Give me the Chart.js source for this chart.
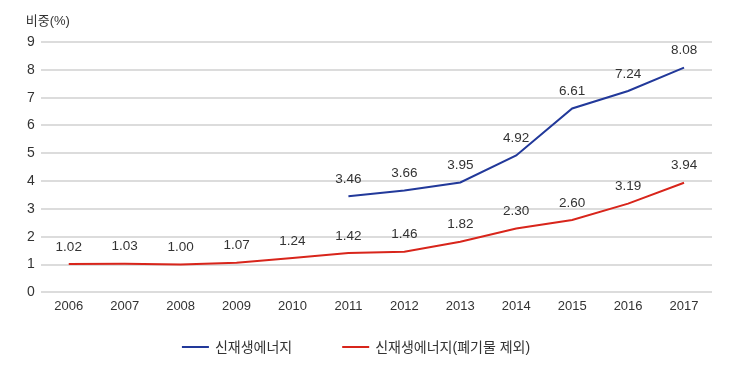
<!DOCTYPE html>
<html>
<head>
<meta charset="utf-8">
<script src="https://cdn.jsdelivr.net/npm/chart.js@4/dist/chart.umd.min.js"></script>
<style>
  html, body { margin: 0; padding: 0; background: #fff; }
  #wrap { width: 736px; height: 368px; }
</style>
</head>
<body>
<div id="wrap"><canvas id="chart"></canvas></div>
<script>
const years = ["2006", "2007", "2008", "2009", "2010", "2011", "2012", "2013", "2014", "2015", "2016", "2017"]
const renewable = [null, null, null, null, null, 3.46, 3.66, 3.95, 4.92, 6.61, 7.24, 8.08]
const renewableExWaste = [1.02, 1.03, 1.00, 1.07, 1.24, 1.42, 1.46, 1.82, 2.30, 2.60, 3.19, 3.94]
const yTicks = [0, 1, 2, 3, 4, 5, 6, 7, 8, 9]
const yTitle = "비중(%)"

const FONT = "'Liberation Sans', 'Noto Sans CJK KR', sans-serif"

// value labels above each point
const valueLabels = {
  id: "valueLabels",
  afterDatasetsDraw(chart) {
    const ctx = chart.ctx
    ctx.save()
    ctx.font = "13.5px " + FONT
    ctx.fillStyle = "#333"
    ctx.textAlign = "center"
    ctx.textBaseline = "middle"
    chart.data.datasets.forEach((ds, i) => {
      const meta = chart.getDatasetMeta(i)
      meta.data.forEach((pt, j) => {
        const v = ds.data[j]
        if (v == null) return
        ctx.fillText(v.toFixed(2), pt.x, pt.y - 17)
      })
    })
    ctx.restore()
  }
}

// unit title above the y axis
const axisTitle = {
  id: "axisTitle",
  afterDraw(chart) {
    const ctx = chart.ctx
    ctx.save()
    ctx.font = "13px " + FONT
    ctx.fillStyle = "#333"
    ctx.textBaseline = "middle"
    ctx.fillText(yTitle, chart.chartArea.left - 15, chart.chartArea.top - 21)
    ctx.restore()
  }
}

// legend drawn below the axis: short line + label, wide gap between items
const lineLegend = {
  id: "lineLegend",
  afterDraw(chart) {
    const ctx = chart.ctx
    const sample = 27, gap = 6, between = 50
    ctx.save()
    ctx.font = "14px " + FONT
    ctx.textBaseline = "middle"
    const items = chart.data.datasets.map(ds => ({
      text: ds.label, color: ds.borderColor, w: ctx.measureText(ds.label).width
    }))
    const total = items.reduce((s, it) => s + sample + gap + it.w, 0) + between * (items.length - 1)
    let x = chart.width / 2 - 12 - total / 2
    const y = chart.height - 21
    items.forEach(it => {
      ctx.strokeStyle = it.color
      ctx.lineWidth = 2
      ctx.beginPath()
      ctx.moveTo(x, y)
      ctx.lineTo(x + sample, y)
      ctx.stroke()
      ctx.fillStyle = "#333"
      ctx.fillText(it.text, x + sample + gap, y + 1)
      x += sample + gap + it.w + between
    })
    ctx.restore()
  }
}

new Chart(document.getElementById("chart"), {
  type: "line",
  data: {
    labels: years,
    datasets: [
      {
        label: "신재생에너지",
        data: renewable,
        borderColor: "#22399a",
        backgroundColor: "#22399a",
        borderWidth: 2,
        pointRadius: 0,
        tension: 0
      },
      {
        label: "신재생에너지(폐기물 제외)",
        data: renewableExWaste,
        borderColor: "#d8251b",
        backgroundColor: "#d8251b",
        borderWidth: 2,
        pointRadius: 0,
        tension: 0
      }
    ]
  },
  options: {
    responsive: true,
    maintainAspectRatio: false,
    animation: false,
    layout: { padding: { left: 21, right: 24, top: 42, bottom: 48 } },
    scales: {
      x: {
        offset: true,
        grid: { display: false, drawTicks: false },
        border: { display: false },
        ticks: { color: "#333", font: { family: FONT, size: 13 }, padding: 6, maxRotation: 0 }
      },
      y: {
        min: 0,
        max: 9,
        afterBuildTicks: axis => { axis.ticks = yTicks.map(v => ({ value: v })) },
        grid: { color: "#dcdcdc", lineWidth: 2, drawTicks: false },
        border: { display: false },
        ticks: { color: "#333", font: { family: FONT, size: 14 }, padding: 6 }
      }
    },
    plugins: {
      legend: { display: false },
      tooltip: { enabled: false }
    }
  },
  plugins: [valueLabels, axisTitle, lineLegend]
})
</script>
</body>
</html>
